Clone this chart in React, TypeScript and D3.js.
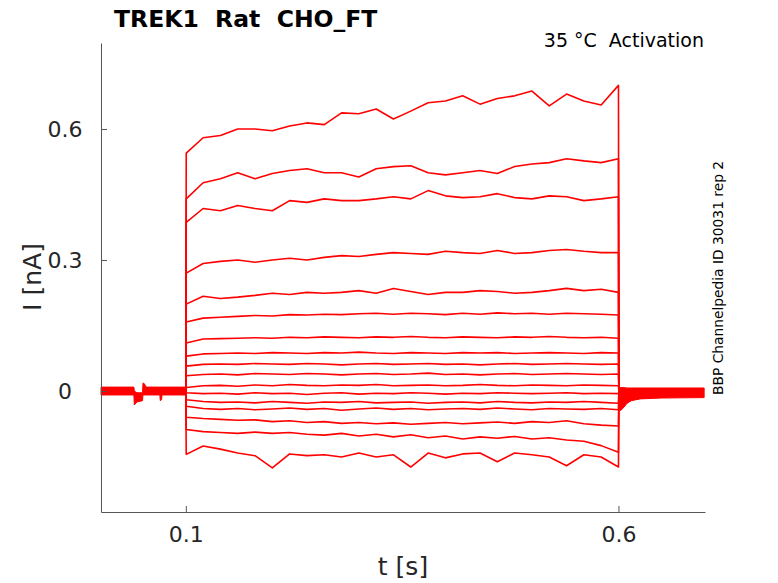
import { useRef, useEffect } from "react";
import * as d3 from "d3";

// Sample times inside the voltage step (s)
const STEP_T = [0.1005, 0.12, 0.14, 0.16, 0.18, 0.2, 0.22, 0.24, 0.26, 0.28, 0.3, 0.32, 0.34, 0.36, 0.38, 0.4, 0.42, 0.44, 0.46, 0.48, 0.5, 0.52, 0.54, 0.56, 0.58, 0.6];

// Current (nA) of each sweep at STEP_T
const SWEEPS: number[][] = [
  [0.545, 0.58, 0.585, 0.6, 0.6, 0.596, 0.607, 0.614, 0.61, 0.637, 0.635, 0.646, 0.623, 0.641, 0.66, 0.664, 0.676, 0.657, 0.67, 0.676, 0.687, 0.653, 0.68, 0.664, 0.655, 0.7],
  [0.44, 0.477, 0.486, 0.5, 0.486, 0.498, 0.505, 0.509, 0.5, 0.5, 0.49, 0.509, 0.514, 0.516, 0.5, 0.495, 0.5, 0.505, 0.498, 0.514, 0.52, 0.523, 0.532, 0.527, 0.523, 0.532],
  [0.386, 0.418, 0.413, 0.425, 0.418, 0.413, 0.436, 0.432, 0.44, 0.436, 0.436, 0.44, 0.445, 0.44, 0.459, 0.447, 0.443, 0.445, 0.452, 0.443, 0.44, 0.447, 0.445, 0.436, 0.44, 0.445],
  [0.27, 0.292, 0.297, 0.3, 0.295, 0.3, 0.304, 0.3, 0.306, 0.31, 0.308, 0.313, 0.317, 0.315, 0.313, 0.32, 0.317, 0.315, 0.322, 0.315, 0.317, 0.322, 0.324, 0.32, 0.317, 0.317],
  [0.199, 0.217, 0.212, 0.215, 0.219, 0.224, 0.221, 0.226, 0.224, 0.226, 0.23, 0.224, 0.235, 0.228, 0.221, 0.226, 0.226, 0.23, 0.228, 0.224, 0.226, 0.23, 0.235, 0.23, 0.233, 0.226],
  [0.158, 0.167, 0.169, 0.171, 0.173, 0.172, 0.175, 0.174, 0.176, 0.175, 0.177, 0.178, 0.176, 0.178, 0.177, 0.175, 0.178, 0.176, 0.179, 0.177, 0.178, 0.176, 0.178, 0.177, 0.176, 0.174],
  [0.11, 0.119, 0.12, 0.121, 0.122, 0.121, 0.123, 0.122, 0.124, 0.123, 0.122, 0.124, 0.123, 0.125, 0.123, 0.122, 0.124, 0.123, 0.122, 0.124, 0.123, 0.125, 0.123, 0.122, 0.123, 0.121],
  [0.08, 0.085, 0.086, 0.087, 0.086, 0.088, 0.087, 0.086, 0.088, 0.087, 0.089, 0.087, 0.086, 0.088, 0.087, 0.086, 0.088, 0.087, 0.088, 0.086, 0.087, 0.088, 0.087, 0.086, 0.088, 0.087],
  [0.057, 0.061, 0.062, 0.061, 0.063, 0.062, 0.061, 0.063, 0.062, 0.06, 0.062, 0.063, 0.061, 0.062, 0.063, 0.061, 0.062, 0.06, 0.062, 0.063, 0.061, 0.062, 0.063, 0.062, 0.061, 0.062],
  [0.035, 0.038, 0.039, 0.037, 0.04, 0.039, 0.038, 0.04, 0.039, 0.037, 0.039, 0.04, 0.038, 0.039, 0.041, 0.038, 0.039, 0.037, 0.039, 0.04, 0.038, 0.039, 0.04, 0.039, 0.038, 0.039],
  [0.008, 0.012, 0.013, 0.011, 0.014, 0.012, 0.015, 0.013, 0.012, 0.014, 0.013, 0.015, 0.012, 0.013, 0.014, 0.012, 0.013, 0.015, 0.013, 0.012, 0.014, 0.013, 0.012, 0.014, 0.013, 0.012],
  [-0.004, -0.006, -0.005, -0.007, -0.004, -0.006, -0.005, -0.008, -0.005, -0.004, -0.007, -0.005, -0.006, -0.004, -0.005, -0.007, -0.005, -0.006, -0.004, -0.005, -0.006, -0.005, -0.004, -0.006, -0.005, -0.006],
  [-0.02, -0.024, -0.026, -0.025, -0.027, -0.024, -0.026, -0.028, -0.025, -0.026, -0.024, -0.027, -0.026, -0.025, -0.028, -0.026, -0.025, -0.027, -0.024, -0.026, -0.027, -0.025, -0.026, -0.024, -0.026, -0.028],
  [-0.035, -0.04, -0.042, -0.04, -0.043, -0.041, -0.039, -0.042, -0.04, -0.044, -0.041, -0.039, -0.042, -0.04, -0.043, -0.041, -0.04, -0.042, -0.039, -0.041, -0.043, -0.04, -0.041, -0.042, -0.04, -0.043],
  [-0.06, -0.063, -0.065, -0.067, -0.066, -0.07, -0.068, -0.072, -0.07, -0.074, -0.072, -0.075, -0.073, -0.076, -0.074, -0.072, -0.075, -0.073, -0.071, -0.074, -0.07, -0.072, -0.068, -0.075, -0.078, -0.08],
  [-0.088, -0.093, -0.095, -0.097, -0.094, -0.097, -0.095, -0.099, -0.101, -0.097, -0.103, -0.099, -0.105, -0.1, -0.107, -0.103, -0.11, -0.105, -0.108, -0.104, -0.11, -0.107, -0.112, -0.115, -0.125, -0.14],
  [-0.145, -0.126, -0.133, -0.142, -0.148, -0.176, -0.144, -0.148, -0.146, -0.151, -0.142, -0.151, -0.146, -0.174, -0.142, -0.153, -0.144, -0.142, -0.162, -0.142, -0.146, -0.151, -0.171, -0.146, -0.151, -0.174],
];

// Holding-current band before the step (all sweeps overlap here)
const BASE_T = [0.002, 0.04, 0.0405, 0.0435, 0.05, 0.0505, 0.0515, 0.0535, 0.054, 0.07, 0.0705, 0.072, 0.0725, 0.1];
const BASE_HI = [0.009, 0.009, 0.0, -0.004, -0.004, 0.018, 0.018, 0.012, 0.009, 0.009, 0.009, 0.009, 0.009, 0.009];
const BASE_LO = [-0.009, -0.009, -0.032, -0.025, -0.022, -0.009, -0.009, -0.009, -0.009, -0.009, -0.022, -0.02, -0.009, -0.009];

// Band after the step
const TAIL_T = [0.6005, 0.602, 0.605, 0.61, 0.615, 0.625, 0.65, 0.699];
const TAIL_HI = [0.008, 0.008, 0.008, 0.007, 0.007, 0.007, 0.007, 0.007];
const TAIL_LO = [-0.03, -0.045, -0.04, -0.028, -0.022, -0.018, -0.016, -0.015];

const X_TICKS = [0.1, 0.6];
const Y_TICKS = [0, 0.3, 0.6];

const W = 778;
const H = 583;
const FONT = "DejaVu Sans, sans-serif";
const RED = "#ff0000";
const INK = "#262626";

export default function App() {
  const svgRef = useRef<SVGSVGElement>(null);

  useEffect(() => {
    if (!svgRef.current) return;
    const svg = d3.select(svgRef.current);
    svg.selectAll("*").remove();

    const m = { top: 43, right: 73, bottom: 71, left: 101 };
    const iW = W - m.left - m.right;
    const iH = H - m.top - m.bottom;

    const x = d3.scaleLinear().domain([0.002, 0.7]).range([0, iW]);
    const y = d3.scaleLinear().domain([-0.277, 0.797]).range([iH, 0]);

    svg.append("rect").attr("width", W).attr("height", H).attr("fill", "#fff");
    const g = svg.append("g").attr("transform", `translate(${m.left},${m.top})`);

    type P = [number, number];
    const line = d3.line<P>().x(d => x(d[0])).y(d => y(d[1]));
    const band = d3.area<number>()
      .x((_, i) => x(BASE_T[i])).y0((_, i) => y(BASE_LO[i])).y1((_, i) => y(BASE_HI[i]));
    const tail = d3.area<number>()
      .x((_, i) => x(TAIL_T[i])).y0((_, i) => y(TAIL_LO[i])).y1((_, i) => y(TAIL_HI[i]));

    // baseline and tail bands
    g.append("path").attr("d", band(BASE_T)).attr("fill", RED).attr("stroke", RED).attr("stroke-width", 1);
    g.append("path").attr("d", tail(TAIL_T)).attr("fill", RED).attr("stroke", RED).attr("stroke-width", 1);

    // sweeps
    SWEEPS.forEach(vals => {
      const pts: P[] = [[0.1, 0], ...STEP_T.map((t, i) => [t, vals[i]] as P), [0.6005, 0]];
      g.append("path").attr("d", line(pts))
        .attr("fill", "none").attr("stroke", RED).attr("stroke-width", 1.6)
        .attr("stroke-linejoin", "round");
    });

    // axes
    const yAxis = g.append("g")
      .call(d3.axisLeft(y).tickValues(Y_TICKS).tickSizeInner(-6).tickSizeOuter(0).tickFormat(d => String(d)));
    const xAxis = g.append("g").attr("transform", `translate(0,${iH})`)
      .call(d3.axisBottom(x).tickValues(X_TICKS).tickSizeInner(-6).tickSizeOuter(0).tickFormat(d => String(d)));
    [yAxis, xAxis].forEach(a => {
      a.select(".domain").attr("stroke", "#555");
      a.selectAll(".tick line").attr("stroke", "#555");
      a.selectAll("text").attr("fill", INK).attr("font-size", "22px").attr("font-family", FONT);
    });
    yAxis.selectAll("text").attr("x", -36).attr("text-anchor", "middle");
    xAxis.selectAll("text").attr("y", 30).attr("dy", "0");

    // labels
    svg.append("text").attr("x", 114).attr("y", 27).style("white-space", "pre")
      .attr("font-family", FONT).attr("font-size", "23.5px").attr("font-weight", "bold").attr("fill", "#000")
      .text("TREK1  Rat  CHO_FT");
    svg.append("text").attr("x", 704).attr("y", 47).attr("text-anchor", "end").style("white-space", "pre")
      .attr("font-family", FONT).attr("font-size", "19px").attr("fill", "#000")
      .text("35 °C  Activation");
    svg.append("text").attr("x", 403).attr("y", 575).attr("text-anchor", "middle")
      .attr("font-family", FONT).attr("font-size", "25px").attr("fill", INK)
      .text("t [s]");
    svg.append("text").attr("transform", "translate(41,277) rotate(-90)").attr("text-anchor", "middle")
      .attr("font-family", FONT).attr("font-size", "25px").attr("fill", INK)
      .text("I [nA]");
    svg.append("text").attr("transform", "translate(723,395) rotate(-90)").attr("text-anchor", "start")
      .attr("font-family", FONT).attr("font-size", "13.8px").attr("fill", "#000")
      .text("BBP Channelpedia ID 30031 rep 2");
  }, []);

  return (
    <svg ref={svgRef} width={W} height={H}
      style={{ position: "absolute", left: 0, top: 0, display: "block" }} />
  );
}
